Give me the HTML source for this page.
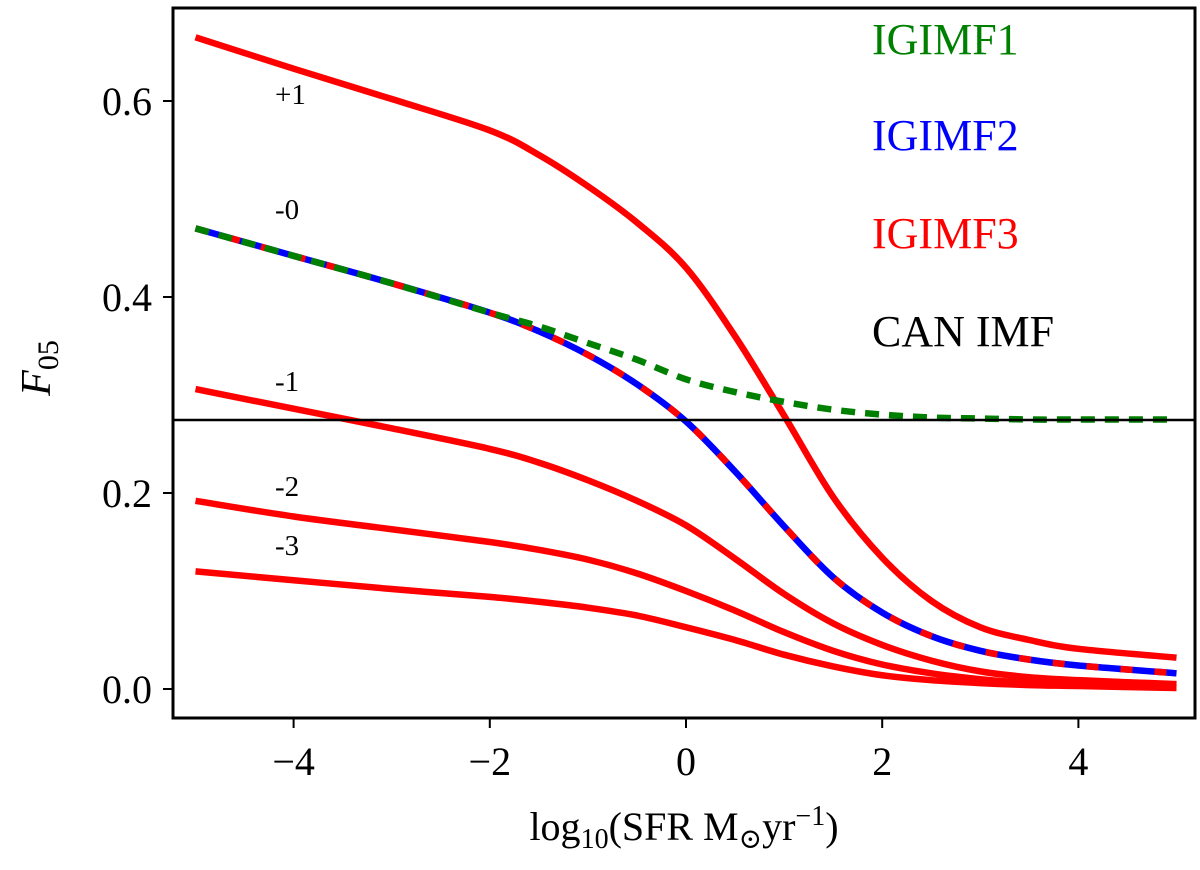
<!DOCTYPE html>
<html><head><meta charset="utf-8"><style>
body{margin:0;background:#fff}
svg text{font-family:"Liberation Serif","DejaVu Serif",serif}
</style></head><body>
<svg id="chart" width="1200" height="865" xmlns="http://www.w3.org/2000/svg">
<g id="marks"></g>
<rect x="173" y="8" width="1022" height="710" fill="none" stroke="#000" stroke-width="3"/>
<g id="axes"></g>
<text x="275" y="104" font-size="29">+1</text>
<text x="275" y="219" font-size="29">-0</text>
<text x="275" y="391" font-size="29">-1</text>
<text x="275" y="496" font-size="29">-2</text>
<text x="275" y="555" font-size="29">-3</text>
<text x="872" y="54" font-size="44" fill="#008000">IGIMF1</text>
<text x="872" y="150" font-size="44" fill="#0000ff">IGIMF2</text>
<text x="872" y="248" font-size="44" fill="#ff0000">IGIMF3</text>
<text x="872" y="346" font-size="44" fill="#000">CAN IMF</text>
<text x="684" y="840" font-size="40" text-anchor="middle">log<tspan font-size="28" dy="8">10</tspan><tspan dy="-8">(SFR M</tspan><tspan font-size="28" dy="8">⊙</tspan><tspan dy="-8">yr</tspan><tspan font-size="28" dy="-15">−1</tspan><tspan dy="15">)</tspan></text>
<text transform="translate(50,368) rotate(-90)" font-size="42" text-anchor="middle" font-style="italic">F<tspan font-size="30" dy="8" font-style="normal">05</tspan></text>
</svg>
<script>
const xs=[-5,-4,-3,-2,-1.5,-1,-0.5,0,0.5,1,1.5,2,2.5,3,3.5,4,5];
const plus1=[0.665,0.633,0.602,0.570,0.545,0.513,0.476,0.430,0.360,0.279,0.196,0.134,0.090,0.063,0.050,0.041,0.032];
const zero=[0.47,0.442,0.414,0.384,0.365,0.341,0.311,0.273,0.222,0.166,0.114,0.078,0.054,0.039,0.030,0.024,0.016];
const igimf1=[0.47,0.442,0.414,0.384,0.370,0.353,0.336,0.316,0.303,0.293,0.285,0.280,0.277,0.276,0.275,0.275,0.275];
const minus1=[0.306,0.286,0.266,0.245,0.231,0.213,0.192,0.167,0.133,0.097,0.067,0.045,0.029,0.018,0.012,0.009,0.005];
const minus2=[0.192,0.176,0.163,0.150,0.142,0.132,0.118,0.10,0.08,0.058,0.039,0.025,0.016,0.010,0.006,0.004,0.002];
const minus3=[0.12,0.111,0.102,0.094,0.089,0.083,0.075,0.063,0.05,0.035,0.023,0.014,0.009,0.006,0.004,0.003,0.001];
const canImf=0.2745;
const xTicks=[-4,-2,0,2,4];
const yTicks=[0.0,0.2,0.4,0.6];
const X=v=>686+v*98.1, Y=v=>689-v*980;
const NS="http://www.w3.org/2000/svg";
const marks=document.getElementById('marks'), axes=document.getElementById('axes');
function smooth(pts){
 let d='M'+pts[0][0]+','+pts[0][1];
 for(let i=0;i<pts.length-1;i++){
  const p0=pts[Math.max(i-1,0)],p1=pts[i],p2=pts[i+1],p3=pts[Math.min(i+2,pts.length-1)];
  const c1=[p1[0]+(p2[0]-p0[0])/6,p1[1]+(p2[1]-p0[1])/6];
  const c2=[p2[0]-(p3[0]-p1[0])/6,p2[1]-(p3[1]-p1[1])/6];
  d+=' C'+c1+' '+c2+' '+p2;
 }
 return d;
}
function line(ys,color,name,dash){
 const p=document.createElementNS(NS,'path');
 p.setAttribute('d',smooth(xs.map((x,i)=>[X(x),Y(ys[i])])));
 p.setAttribute('fill','none');p.setAttribute('stroke',color);p.setAttribute('stroke-width','6.5');
 if(dash)p.setAttribute('stroke-dasharray',dash);
 
 
 marks.appendChild(p);
}
line(plus1,'#ff0000','curve-plus1');
line(minus1,'#ff0000','curve-minus1');
line(minus2,'#ff0000','curve-minus2');
line(minus3,'#ff0000','curve-minus3');
line(zero,'#0000ff','curve-igimf2');
line(zero,'#ff0000','curve-igimf3','12 22');
line(igimf1,'#008000','curve-igimf1','14 10');
const h=document.createElementNS(NS,'line');
h.setAttribute('x1',173);h.setAttribute('x2',1195);h.setAttribute('y1',Y(canImf));h.setAttribute('y2',Y(canImf));
h.setAttribute('stroke','#000');h.setAttribute('stroke-width','2.5');


marks.appendChild(h);
xTicks.forEach(t=>{
 const l=document.createElementNS(NS,'line');
 l.setAttribute('x1',X(t));l.setAttribute('x2',X(t));l.setAttribute('y1',718);l.setAttribute('y2',728);l.setAttribute('stroke','#000');l.setAttribute('stroke-width','2');
 
 
 axes.appendChild(l);
 const tx=document.createElementNS(NS,'text');
 tx.setAttribute('x',X(t));tx.setAttribute('y',775);tx.setAttribute('font-size','40');tx.setAttribute('text-anchor','middle');
 tx.textContent=(t<0?'−':'')+Math.abs(t);
 
 
 axes.appendChild(tx);
});
yTicks.forEach(t=>{
 const l=document.createElementNS(NS,'line');
 l.setAttribute('x1',163);l.setAttribute('x2',173);l.setAttribute('y1',Y(t));l.setAttribute('y2',Y(t));l.setAttribute('stroke','#000');l.setAttribute('stroke-width','2');
 
 
 axes.appendChild(l);
 const tx=document.createElementNS(NS,'text');
 tx.setAttribute('x',152);tx.setAttribute('y',Y(t)+14);tx.setAttribute('font-size','40');tx.setAttribute('text-anchor','end');
 tx.textContent=t.toFixed(1);
 
 
 axes.appendChild(tx);
});
</script>
</body></html>
